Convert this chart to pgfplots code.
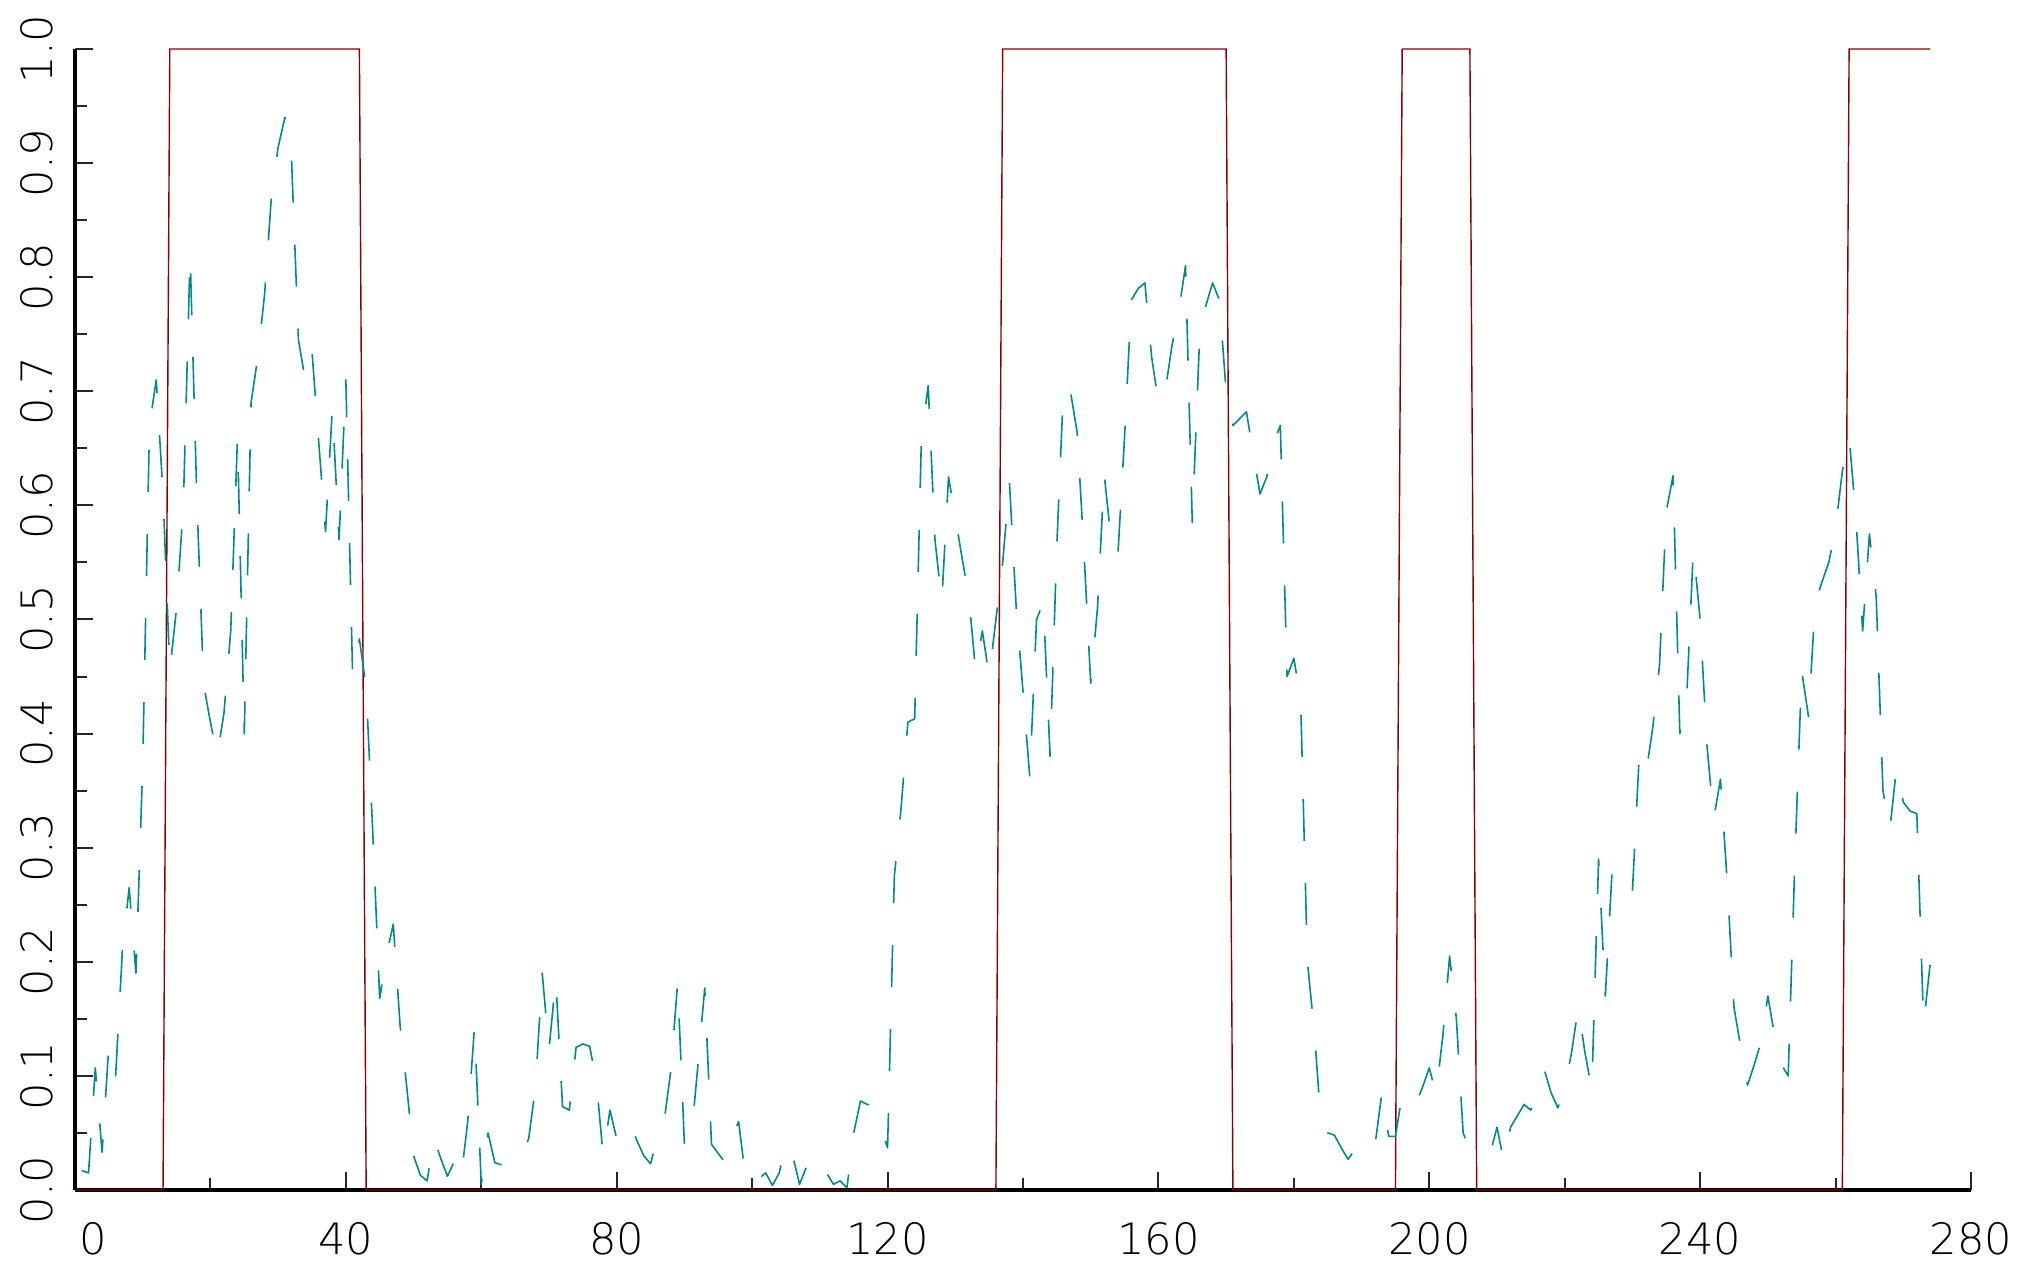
\documentclass[border=0pt]{standalone}
\usepackage{fontspec}
\newfontfamily\tickfont{DejaVu Sans ExtraLight}
\usepackage{pgfplots}
\usepackage{pgfplotstable}
\pgfplotsset{compat=1.18}
\definecolor{redline}{RGB}{139,0,0}
\definecolor{tealline}{RGB}{0,139,139}

\pgfplotstableread{
x y
0 0
13 0
14 1
42 1
43 0
136 0
137 1
170 1
171 0
195 0
196 1
206 1
207 0
261 0
262 1
274 1
}\redtable

\pgfplotstableread{
x y
1 0.017
2 0.015
3 0.107
4 0.033
5 0.127
6 0.100
7 0.210
8 0.265
9 0.190
10 0.373
11 0.670
12 0.710
13 0.610
14 0.455
15 0.510
16 0.600
17 0.820
18 0.605
19 0.443
20 0.410
21 0.380
22 0.418
23 0.490
24 0.660
25 0.400
26 0.690
27 0.730
28 0.785
29 0.870
30 0.914
31 0.940
32 0.900
33 0.745
34 0.710
35 0.735
36 0.655
37 0.577
38 0.685
39 0.570
40 0.710
41 0.450
42 0.483
43 0.440
44 0.310
45 0.168
46 0.206
47 0.233
48 0.145
49 0.090
50 0.030
51 0.013
52 0.008
53 0.045
54 0.028
55 0.012
56 0.025
57 0.010
58 0.060
59 0.143
60 0.005
61 0.050
62 0.024
63 0.022
64 0.020
65 0.020
66 0.030
67 0.045
68 0.090
69 0.190
70 0.123
71 0.185
72 0.073
73 0.070
74 0.125
75 0.128
76 0.126
77 0.095
78 0.030
79 0.070
80 0.045
81 0.043
82 0.058
83 0.043
84 0.030
85 0.023
86 0.045
87 0.060
88 0.105
89 0.182
90 0.040
91 0.045
92 0.110
93 0.177
94 0.040
95 0.032
96 0.024
97 0.045
98 0.060
99 0.012
100 0.004
101 0.010
102 0.015
103 0.004
104 0.015
105 0.041
106 0.030
107 0.005
108 0.020
109 0.032
110 0.027
111 0.015
112 0.005
113 0.008
114 0.002
115 0.050
116 0.078
117 0.075
118 0.074
119 0.055
120 0.037
121 0.275
122 0.335
123 0.410
124 0.413
125 0.660
126 0.705
127 0.570
128 0.515
129 0.625
130 0.590
131 0.554
132 0.520
133 0.455
134 0.490
135 0.450
136 0.500
137 0.550
138 0.620
139 0.510
140 0.437
141 0.362
142 0.500
143 0.515
144 0.380
145 0.566
146 0.705
147 0.700
148 0.664
149 0.560
150 0.444
151 0.510
152 0.627
153 0.570
154 0.555
155 0.660
156 0.780
157 0.790
158 0.795
159 0.730
160 0.690
161 0.700
162 0.740
163 0.770
164 0.810
165 0.585
166 0.735
167 0.775
168 0.795
169 0.780
170 0.700
171 0.670
172 0.676
173 0.682
174 0.645
175 0.610
176 0.625
177 0.655
178 0.670
179 0.450
180 0.466
181 0.430
182 0.200
183 0.140
184 0.060
185 0.050
186 0.048
187 0.037
188 0.027
189 0.035
190 0.045
191 0.048
192 0.040
193 0.085
194 0.047
195 0.047
196 0.084
197 0.083
198 0.075
199 0.090
200 0.107
201 0.084
202 0.135
203 0.205
204 0.150
205 0.050
206 0.035
207 0.035
208 0.034
209 0.032
210 0.055
211 0.025
212 0.055
213 0.065
214 0.075
215 0.070
216 0.095
217 0.105
218 0.085
219 0.072
220 0.090
221 0.120
222 0.160
223 0.120
224 0.088
225 0.290
226 0.170
227 0.280
228 0.282
229 0.262
230 0.262
231 0.380
232 0.365
233 0.405
234 0.460
235 0.595
236 0.626
237 0.400
238 0.430
239 0.562
240 0.500
241 0.390
242 0.325
243 0.360
244 0.270
245 0.160
246 0.125
247 0.092
248 0.110
249 0.130
250 0.170
251 0.135
252 0.110
253 0.100
254 0.290
255 0.455
256 0.415
257 0.515
258 0.533
259 0.550
260 0.580
261 0.630
262 0.660
263 0.590
264 0.490
265 0.575
266 0.520
267 0.350
268 0.315
269 0.370
270 0.340
271 0.332
272 0.330
273 0.145
274 0.200
}\tealtable

\begin{document}
\begin{tikzpicture}
\begin{axis}[
  name=ax,
  at={(0,0)}, anchor=south west,
  scale only axis,
  width=474pt, height=285.25pt,
  xmin=0, xmax=280, ymin=0, ymax=1,
  axis x line=bottom, axis y line=left,
  axis line style={-, line width=0.8pt, black},
  clip=false,
  xtick={0,40,80,120,160,200,240,280},
  xticklabels={\makebox[0pt][l]{\hspace{1.2pt}0},40,80,120,160,200,240,280},
  minor xtick={20,60,100,140,180,220,260},
  ytick={0,0.1,0.2,0.3,0.4,0.5,0.6,0.7,0.8,0.9,1},
  yticklabels={0.0,0.1,0.2,0.3,0.4,0.5,0.6,0.7,0.8,0.9,1.0},
  minor ytick={0.05,0.15,0.25,0.35,0.45,0.55,0.65,0.75,0.85,0.95},
  tick align=inside,
  major tick length=4.4pt, minor tick length=2.9pt,
  tick style={black!85, line width=0.5pt},
  every tick label/.append style={font=\tickfont\fontsize{10.8}{13}\selectfont, text=black},
  xticklabel style={anchor=north, inner sep=0pt, yshift=-7.9pt},
  yticklabel style={xshift=-5.25pt, rotate=90, anchor=south, inner sep=0pt},
  /pgf/number format/assume math mode=true,
]
\addplot[redline, line width=0.35pt, line join=miter] table[x=x,y=y] {\redtable};
\addplot[tealline, line width=0.4pt, line join=round, dash pattern=on 10.5pt off 10.5pt] table[x=x,y=y] {\tealtable};
\end{axis}
\pgfresetboundingbox
\path ([shift={(-18.75pt,-19pt)}]ax.south west) rectangle ([shift={(17pt,12.25pt)}]ax.north east);
\end{tikzpicture}
\end{document}
